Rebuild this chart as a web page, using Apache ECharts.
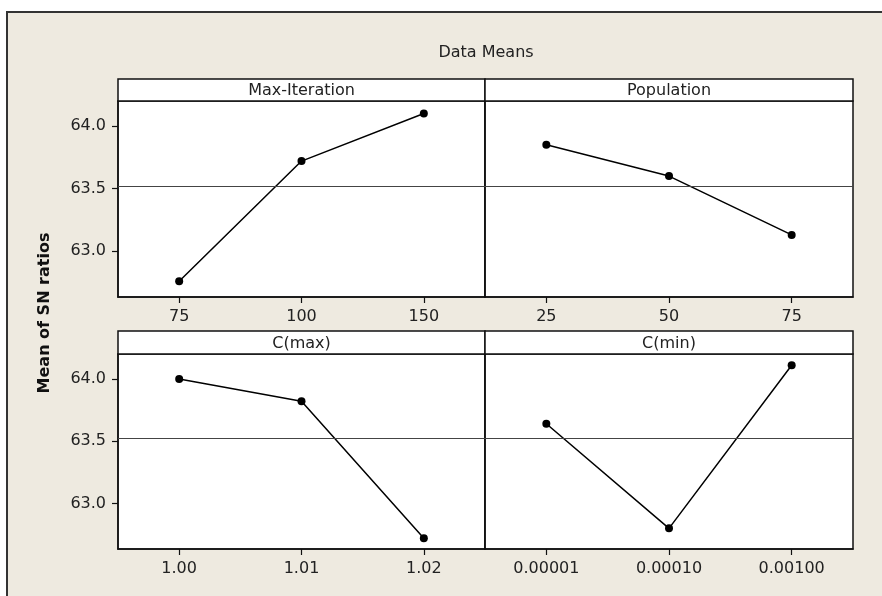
<!DOCTYPE html>
<html>
<head>
<meta charset="utf-8">
<script src="https://cdn.jsdelivr.net/npm/echarts@6/dist/echarts.min.js"></script>
<style>
  html, body { margin: 0; padding: 0; background: #fff; }
  #chart { width: 882px; height: 596px; }
</style>
</head>
<body>
<div id="chart"></div>
<script>
// factor levels (x categories)
const levelsMaxIter = ['75', '100', '150'];
const levelsPop = ['25', '50', '75'];
const levelsCmax = ['1.00', '1.01', '1.02'];
const levelsCmin = ['0.00001', '0.00010', '0.00100'];

// mean of SN ratios per level
const meansMaxIter = [62.76, 63.72, 64.10];
const meansPop = [63.85, 63.60, 63.13];
const meansCmax = [64.00, 63.82, 62.72];
const meansCmin = [63.64, 62.80, 64.11];

const grandMean = 63.52;
const yTicks = [63.0, 63.5, 64.0];
const panelTitles = ['Max-Iteration', 'Population', 'C(max)', 'C(min)'];

const chart = echarts.init(document.getElementById('chart'));
const font = 'DejaVu Sans';

// panel boxes: left, top, width, height (plot area under the strip)
const panels = [
  { left: 118, top: 101, width: 367, height: 196, strip: 79 },
  { left: 485, top: 101, width: 368, height: 196, strip: 79 },
  { left: 118, top: 354, width: 367, height: 195, strip: 331 },
  { left: 485, top: 354, width: 368, height: 195, strip: 331 }
];
const levels = [levelsMaxIter, levelsPop, levelsCmax, levelsCmin];
const means = [meansMaxIter, meansPop, meansCmax, meansCmin];

const grids = panels.map(p => ({
  left: p.left, top: p.top, width: p.width, height: p.height,
  show: true, backgroundColor: '#fff', borderColor: '#111', borderWidth: 1.5
}));

const xAxes = levels.map((lv, i) => ({
  type: 'category', gridIndex: i, data: lv, boundaryGap: true,
  axisLine: { show: true, lineStyle: { color: '#111', width: 1.5 } },
  axisTick: { show: true, alignWithLabel: true, length: 6, lineStyle: { color: '#111', width: 1.2 } },
  axisLabel: { margin: 12, fontFamily: font, fontSize: 16, color: '#222' }
}));

const yAxes = levels.map((lv, i) => {
  const showLab = (i % 2 === 0);
  return {
    type: 'value', gridIndex: i, min: 62.634, max: 64.2,
    splitLine: { show: false },
    axisLine: { show: true, lineStyle: { color: '#111', width: 1.5 } },
    axisTick: { show: showLab, customValues: yTicks, length: 6, lineStyle: { color: '#111', width: 1.2 } },
    axisLabel: {
      show: showLab, customValues: yTicks, margin: 12,
      fontFamily: font, fontSize: 16, color: '#222',
      formatter: v => v.toFixed(1)
    }
  };
});

const series = means.map((m, i) => ({
  type: 'line', xAxisIndex: i, yAxisIndex: i, data: m,
  symbol: 'circle', symbolSize: 8,
  itemStyle: { color: '#000' },
  lineStyle: { color: '#000', width: 1.5 },
  animation: false,
  markLine: {
    silent: true, symbol: 'none', label: { show: false },
    lineStyle: { color: '#444', width: 1, type: 'solid' },
    data: [{ yAxis: grandMean }]
  }
}));

const graphics = [
  { type: 'rect', z: -100, shape: { x: 7, y: 12, width: 900, height: 620 },
    style: { fill: '#EEEAE0', stroke: '#333', lineWidth: 2 } },
  { type: 'text', x: 486, y: 53,
    style: { text: 'Data Means', font: '16px ' + font, fill: '#222', textAlign: 'center', textVerticalAlign: 'middle' } },
  { type: 'text', x: 45, y: 313, rotation: Math.PI / 2,
    style: { text: 'Mean of SN ratios', font: 'bold 16px ' + font, fill: '#111', textAlign: 'center', textVerticalAlign: 'middle' } }
];
panels.forEach((p, i) => {
  graphics.push({
    type: 'rect', z: 10,
    shape: { x: p.left, y: p.strip, width: p.width, height: p.top - p.strip },
    style: { fill: '#fff', stroke: '#111', lineWidth: 1.5 }
  });
  graphics.push({
    type: 'text', z: 11, x: p.left + p.width / 2, y: (p.strip + p.top) / 2 + 1,
    style: { text: panelTitles[i], font: '16px ' + font, fill: '#222', textAlign: 'center', textVerticalAlign: 'middle' }
  });
});

chart.setOption({
  animation: false,
  grid: grids,
  xAxis: xAxes,
  yAxis: yAxes,
  series: series,
  graphic: graphics
});
</script>
</body>
</html>
